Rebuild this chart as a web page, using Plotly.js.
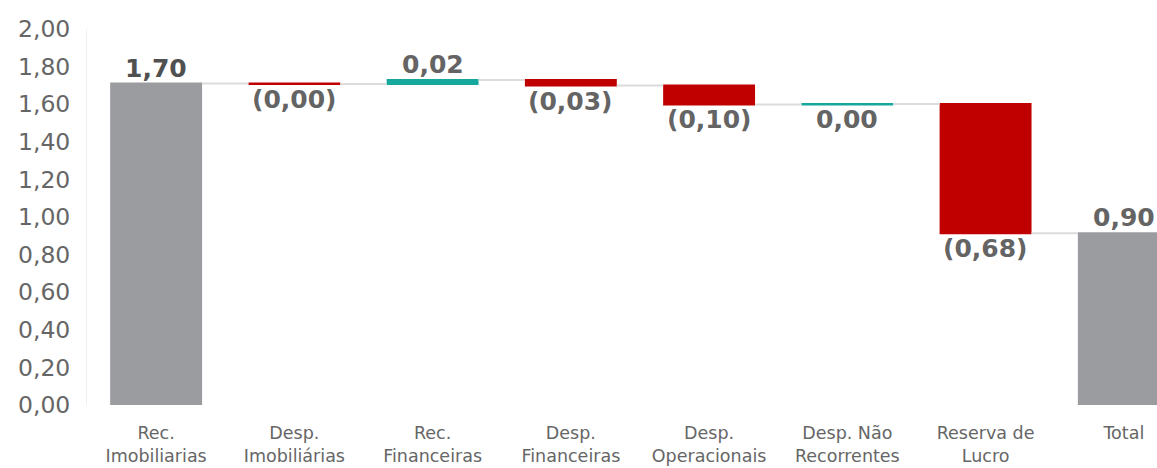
<!DOCTYPE html>
<html>
<head>
<meta charset="utf-8">
<script src="https://cdn.plot.ly/plotly-3.0.1.min.js"></script>
<style>html,body{margin:0;padding:0;background:#fff;}#chart{width:1157px;height:468px;}</style>
</head>
<body>
<div id="chart"></div>
<script>
const categories = ["Rec.<br>Imobiliarias", "Desp.<br>Imobiliárias", "Rec.<br>Financeiras", "Desp.<br>Financeiras", "Desp.<br>Operacionais", "Desp. Não<br>Recorrentes", "Reserva de<br>Lucro", "Total"];
const values = [1.710, -0.003, 0.022, -0.030, -0.100, 0.002, -0.688, 0];
const measures = ["absolute", "relative", "relative", "relative", "relative", "relative", "relative", "total"];
const labels = ["1,70", "(0,00)", "0,02", "(0,03)", "(0,10)", "0,00", "(0,68)", "0,90"];
const labelSide = ["above", "below", "above", "below", "below", "below", "below", "above"];
const yTickVals = [0, 0.2, 0.4, 0.6, 0.8, 1.0, 1.2, 1.4, 1.6, 1.8, 2.0];
const yTickText = ["0,00", "0,20", "0,40", "0,60", "0,80", "1,00", "1,20", "1,40", "1,60", "1,80", "2,00"];

let run = 0;
const annotations = [];
for (let i = 0; i < values.length; i++) {
  let start, end;
  if (measures[i] === "absolute") { start = 0; end = values[i]; run = end; }
  else if (measures[i] === "total") { start = 0; end = run; }
  else { start = run; end = run + values[i]; run = end; }
  const top = Math.max(start, end), bot = Math.min(start, end);
  const above = labelSide[i] === "above";
  annotations.push({
    x: i, y: above ? top : bot, xref: "x", yref: "y",
    text: "<b>" + labels[i] + "</b>", showarrow: false,
    yanchor: above ? "bottom" : "top", xanchor: "center",
    yshift: above ? -1 : 1,
    font: {family: "DejaVu Sans, Verdana, sans-serif", size: 25, color: i === 0 ? "#505050" : "#646464"}
  });
}

const trace = {
  type: "waterfall",
  x: categories.map((c, i) => i),
  y: values,
  measure: measures,
  width: 0.665,
  increasing: {marker: {color: "rgba(22,168,156,0.999)", line: {width: 0}}},
  decreasing: {marker: {color: "rgba(192,0,0,0.999)", line: {width: 0}}},
  totals: {marker: {color: "rgba(155,156,160,0.999)", line: {width: 0}}},
  connector: {mode: "between", line: {color: "#dcdcdc", width: 2}},
  textinfo: "none",
  hoverinfo: "none"
};

const layout = {
  width: 1157, height: 468,
  margin: {l: 87, r: 0, t: 29, b: 63},
  paper_bgcolor: "#ffffff", plot_bgcolor: "#ffffff",
  showlegend: false,
  font: {family: "DejaVu Sans, Verdana, sans-serif", color: "#666666"},
  xaxis: {
    type: "linear", range: [-0.5, 7.24],
    tickmode: "array", tickvals: categories.map((c, i) => i), ticktext: categories,
    showgrid: false, zeroline: false, showline: false,
    ticks: "outside", ticklen: 0, ticklabelstandoff: 12,
    tickfont: {size: 17.5, color: "#666666"}
  },
  yaxis: {
    range: [0, 2], tickmode: "array", tickvals: yTickVals, ticktext: yTickText,
    showgrid: false, zeroline: false,
    showline: true, linecolor: "#f0f0f0", linewidth: 1,
    ticks: "outside", ticklen: 0, ticklabelstandoff: 11,
    tickfont: {size: 23.5, color: "#666666"}
  },
  annotations: annotations
};

Plotly.newPlot("chart", [trace], layout, {displayModeBar: false});
</script>
</body>
</html>
